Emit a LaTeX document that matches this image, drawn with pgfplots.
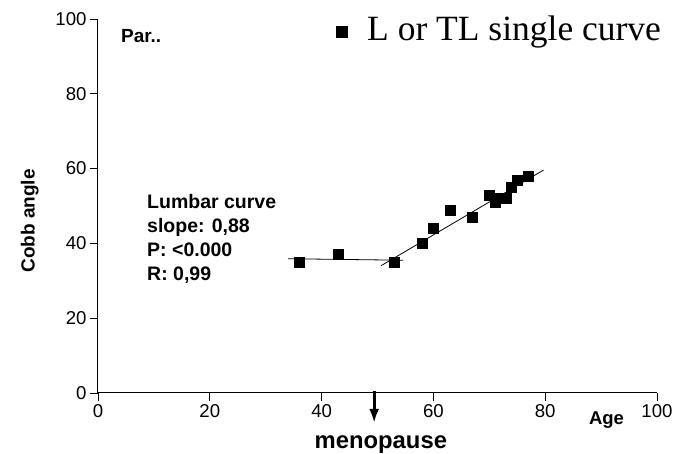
\documentclass[border=0pt]{standalone}
\usepackage{pgfplots}
\pgfplotsset{compat=1.18}
\usetikzlibrary{arrows.meta}
\usepackage{fontspec}
\setmainfont{Liberation Sans}
\newfontfamily\timesfont{Liberation Serif}
\begin{document}
\begin{tikzpicture}
\begin{axis}[
  at={(0,0)}, anchor=origin,
  scale only axis, width=559pt, height=374pt,
  xmin=0, xmax=100, ymin=0, ymax=100,
  axis lines=left, axis line style={-, line width=1pt},
  xtick={0,20,...,100}, ytick={0,20,...,100},
  tick align=outside, major tick length=8pt,
  tick style={black, line width=0.8pt},
  tick label style={font=\fontsize{18.6}{20}\selectfont},
  /pgf/number format/assume math mode=true,
  clip=false,
  legend style={draw=none, fill=none, font=\timesfont\fontsize{35.5}{37}\selectfont,
    at={(rel axis cs:0.4258,0.974)}, anchor=west, inner sep=0pt},
  legend cell align=left,
]
\addplot[only marks, mark=square*, mark size=5pt, black, legend image post style={yshift=-3pt, mark size=5.5pt}] coordinates {
  (36,35) (43,37) (53,35) (58,40) (60,44) (63,49) (67,47) (70,53)
  (71,51) (72,52) (73,52) (74,55) (75,57) (77,58)
};
\addlegendentry{\hspace*{18pt}L or TL single curve}
\addplot[black, line width=0.8pt, forget plot] coordinates {(34,35.9) (54.6,35.5)};
\addplot[black, line width=0.8pt, forget plot] coordinates {(50.6,34.0) (79.7,59.6)};
\draw[-{Latex[length=14pt,width=10pt]}, line width=3pt] (axis cs:49.4,0.6) -- (axis cs:49.4,-8.0);
\node[font=\bfseries\fontsize{23.8}{26}\selectfont, anchor=base] at (axis cs:50.6,-14.97) {menopause};
\node[font=\bfseries\fontsize{18.5}{20}\selectfont, anchor=base west, inner sep=0pt] at (axis cs:87.8,-8.29) {Age};
\node[font=\bfseries\fontsize{19}{20}\selectfont, anchor=base west, inner sep=0pt] at (axis cs:4.1,93.6) {Par..};
\node[font=\bfseries\fontsize{19.5}{24}\selectfont, anchor=north west, align=left, inner sep=0pt]
  at (axis cs:8.77,53.2) {Lumbar curve\\slope: 0,88\\P: <0.000\\R: 0,99};
\node[font=\bfseries\fontsize{19}{20}\selectfont, rotate=90] at (axis cs:-12.2,46) {Cobb angle};
\end{axis}
\pgfresetboundingbox
\path[use as bounding box] (-98pt,-61pt) rectangle (592pt,393pt);
\end{tikzpicture}
\end{document}
